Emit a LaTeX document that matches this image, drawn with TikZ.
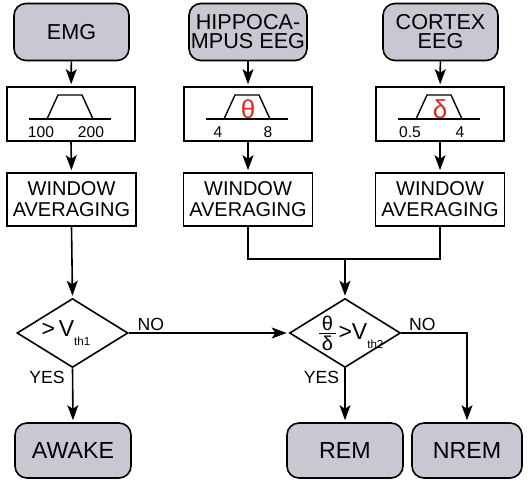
\documentclass[tikz,border=0pt]{standalone}
\usepackage{fontspec}
\setmainfont{Liberation Sans}
\usetikzlibrary{arrows.meta,positioning,calc,shapes.geometric}
\definecolor{srcgray}{RGB}{200,199,210}
\definecolor{bandred}{RGB}{222,40,38}
\tikzset{
  source/.style={
    draw=black,
    rounded corners=6pt,
    line width=0.8pt,
    fill=srcgray,
    minimum width=57.5pt,
    minimum height=28.5pt,
    align=center,
    inner sep=1pt,
    font=\fontsize{10.8}{11}\selectfont
  },
  filterbox/.style={draw=black, line width=0.8pt, minimum width=64pt, minimum height=27pt, inner sep=0pt},
  winbox/.style={draw=black, line width=0.8pt, minimum width=64.5pt, minimum height=26.5pt,
    align=center, inner sep=1pt, font=\fontsize{10}{10.6}\selectfont},
  decision/.style={draw=black, diamond, line width=0.8pt, minimum width=55.5pt, minimum height=34.5pt, inner sep=0pt},
  result/.style={source, minimum width=58pt, minimum height=27.5pt, font=\fontsize{11.6}{12}\selectfont},
  flow/.style={-{Stealth[length=7.5pt,width=5.5pt,inset=1.8pt]}, line width=0.8pt, shorten >=1pt},
  link/.style={line width=0.8pt},
  bandline/.style={line width=0.7pt},
  cutoff/.style={inner sep=0pt, font=\fontsize{7.8}{8}\selectfont},
  answer/.style={inner sep=0pt, font=\fontsize{8.8}{9}\selectfont}
}
% band-pass sketch inside a filter box: node, low, high, symbol
\newcommand{\bandpass}[4]{
  \begin{scope}[shift={(#1)}]
    \draw[bandline] (-42,5) -- (40,5);
    \draw[bandline] (-24,5) -- (-13,-19) -- (11,-19) -- (22,5);
    \node[cutoff] at (-30,18) {#2};
    \node[cutoff] at (20,18) {#3};
    \node[inner sep=0pt, text=bandred, font=\fontsize{13}{13}\selectfont] at (0,-5) {#4};
  \end{scope}
}
\newcommand{\thsub}[1]{\raisebox{-4.5pt}{\fontsize{5.8}{6}\selectfont #1}}
\newcommand{\fracpart}[1]{\mbox{\fontsize{10}{10}\selectfont\kern1.5pt #1\kern1.5pt}}

\begin{document}
\begin{tikzpicture}[x=0.5pt, y=-0.5pt]
  \useasboundingbox (0,0) rectangle (528,480);
  % inputs
  \node[source] (emg)    at (71.5,32)  {EMG};
  \node[source, minimum width=59pt] (hippo) at (248,32) {HIPPOCA-\\[-1.5pt]MPUS EEG};
  \node[source] (cortex) at (440.5,32) {CORTEX\\[-1.5pt]EEG};
  % filters
  \node[filterbox] (filt1) at (71,114)  {};
  \node[filterbox] (filt2) at (248,114) {};
  \node[filterbox] (filt3) at (440,114) {};
  \bandpass{filt1}{100}{200}{}
  \bandpass{filt2}{4}{8}{θ}
  \bandpass{filt3}{0.5}{4}{δ}
  % averaging
  \node[winbox] (win1) at (71.5,199.5) {WINDOW\\AVERAGING};
  \node[winbox] (win2) at (248,199.5)  {WINDOW\\AVERAGING};
  \node[winbox] (win3) at (440,199.5)  {WINDOW\\AVERAGING};
  \coordinate (join) at (345,259);
  % thresholds
  \node[decision] (d1) at (72.5,333) {};
  \node[decision] (d2) at (345,333) {};
  \node[inner sep=0pt, font=\fontsize{11.5}{11.5}\selectfont] (d1txt) at (66,333)
    {>\,V\thsub{th1}};
  \node[inner sep=0pt, font=\fontsize{11.5}{11.5}\selectfont] (d2txt) at (350,333)
    {${\fracpart{θ}\above0.6pt\fracpart{δ}}$>V\thsub{th2}};
  % states
  \node[result] (awake) at (73,450.5)  {AWAKE};
  \node[result] (rem)   at (345,450.5) {REM};
  \node[result, minimum width=55pt] (nrem) at (467,450.5) {NREM};

  \draw[flow] (emg)    -- (filt1);
  \draw[flow] (hippo)  -- (filt2);
  \draw[flow] (cortex) -- (filt3);
  \draw[flow] (filt1.south) -- (win1.north);
  \draw[flow] (filt2.south) -- (win2.north);
  \draw[flow] (filt3.south) -- (win3.north);
  \draw[flow] (win1.south) -- (d1.north);
  \draw[link] (win2.south) |- (join);
  \draw[link] (win3.south) |- (join);
  \draw[flow] (join) -- (d2.north);
  \draw[flow] (d1.east) -- node[answer, pos=0, anchor=south west, xshift=4pt, yshift=1pt] {NO} (d2.west);
  \draw[flow] (d1.south) -- node[answer, pos=0, anchor=north east, xshift=-3.5pt, yshift=-1pt] {YES} (awake.north);
  \draw[flow] (d2.south) -- node[answer, pos=0, anchor=north east, xshift=-2.5pt, yshift=-1pt] {YES} (rem.north);
  \draw[flow] (d2.east) -| node[answer, pos=0, anchor=south west, xshift=3.5pt, yshift=1pt] {NO} (nrem.north);
\end{tikzpicture}
\end{document}
